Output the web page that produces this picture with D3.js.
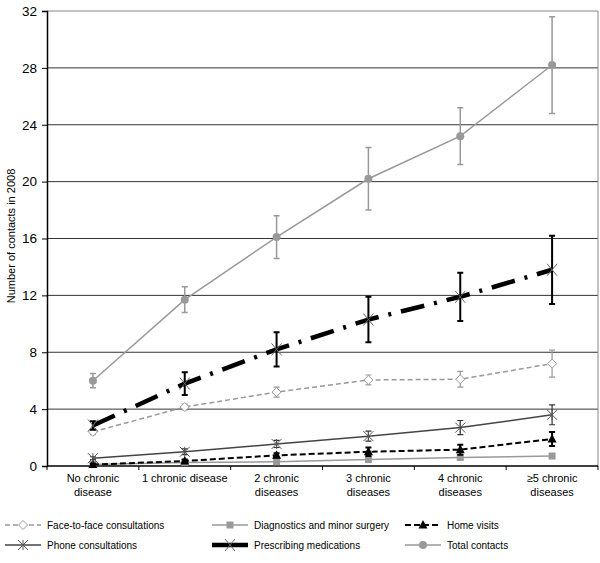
<!DOCTYPE html>
<html>
<head>
<meta charset="utf-8">
<script src="https://cdn.jsdelivr.net/npm/d3@7"></script>
<style>
  body { margin: 0; background: #fff; }
  text { font-family: Arial, "Liberation Sans", sans-serif; }
</style>
</head>
<body>
<div id="chart"></div>
<script>
// Data
const categories = ["No chronic|disease", "1 chronic disease", "2 chronic|diseases",
  "3 chronic|diseases", "4 chronic|diseases", "≥5 chronic|diseases"];
const yTicks = [0, 4, 8, 12, 16, 20, 24, 28, 32];

const faceToFace = [2.4, 4.15, 5.2, 6.05, 6.1, 7.2];
const faceToFaceErr = [0.2, 0.2, 0.35, 0.35, 0.55, 0.95];
const diagnostics = [0.1, 0.25, 0.3, 0.45, 0.6, 0.7];
const diagnosticsErr = [0.03, 0.05, 0.05, 0.05, 0.07, 0.08];
const homeVisits = [0.1, 0.35, 0.75, 1.0, 1.15, 1.9];
const homeVisitsErr = [0.05, 0.1, 0.15, 0.3, 0.35, 0.5];
const phone = [0.55, 1.0, 1.55, 2.1, 2.7, 3.6];
const phoneErr = [0.1, 0.2, 0.25, 0.35, 0.5, 0.7];
const prescribing = [2.85, 5.8, 8.2, 10.3, 11.9, 13.8];
const prescribingErr = [0.3, 0.8, 1.2, 1.6, 1.7, 2.4];
const totalContacts = [6.0, 11.7, 16.1, 20.2, 23.2, 28.2];
const totalErr = [0.5, 0.9, 1.5, 2.2, 2.0, 3.4];

const seriesNames = ["Face-to-face consultations", "Diagnostics and minor surgery", "Home visits",
  "Phone consultations", "Prescribing medications", "Total contacts"];

const series = [
  { name: seriesNames[0], values: faceToFace, err: faceToFaceErr, stroke: "#999", width: 1.5, dash: "5,3", marker: "diamond", mcolor: "#999", ecolor: "#999", ewidth: 1.2 },
  { name: seriesNames[1], values: diagnostics, err: diagnosticsErr, stroke: "#999", width: 1.5, dash: null, marker: "square", mcolor: "#999", ecolor: "#999", ewidth: 1.2 },
  { name: seriesNames[2], values: homeVisits, err: homeVisitsErr, stroke: "#000", width: 2, dash: "6,3", marker: "triangle", mcolor: "#000", ecolor: "#000", ewidth: 2 },
  { name: seriesNames[3], values: phone, err: phoneErr, stroke: "#444", width: 1.5, dash: null, marker: "star", mcolor: "#555", ecolor: "#333", ewidth: 1.2 },
  { name: seriesNames[4], values: prescribing, err: prescribingErr, stroke: "#000", width: 4.5, dash: "24,10,3,10", marker: "cross", mcolor: "#666", ecolor: "#000", ewidth: 2 },
  { name: seriesNames[5], values: totalContacts, err: totalErr, stroke: "#999", width: 1.5, dash: null, marker: "circle", mcolor: "#999", ecolor: "#999", ewidth: 1.5 }
];

// Set up dimensions
const width = 600;
const height = 563;
const margin = { top: 11, right: 2, bottom: 97, left: 47 };
const innerWidth = width - margin.left - margin.right;
const innerHeight = height - margin.top - margin.bottom;

const svg = d3.select("#chart")
  .append("svg")
  .attr("width", width)
  .attr("height", height);

const chart = svg.append("g")
  .attr("transform", `translate(${margin.left}, ${margin.top})`);

// Scales
const xScale = d3.scaleBand()
  .domain(categories)
  .range([0, innerWidth]);

const yScale = d3.scaleLinear()
  .domain([0, 32])
  .range([innerHeight, 0]);

const cx = (i) => xScale(categories[i]) + xScale.bandwidth() / 2;

// Gridlines
chart.append("g")
  .selectAll("line")
  .data(yTicks.filter((d) => d > 0))
  .enter()
  .append("line")
  .attr("x1", 0)
  .attr("x2", innerWidth)
  .attr("y1", (d) => yScale(d))
  .attr("y2", (d) => yScale(d))
  .attr("stroke", (d) => (d === 32 ? "#888" : "#333"))
  .attr("stroke-width", 1);

// Right border
chart.append("line")
  .attr("x1", innerWidth).attr("x2", innerWidth)
  .attr("y1", 0).attr("y2", innerHeight)
  .attr("stroke", "#888");

// Axes
const yAxis = d3.axisLeft(yScale).tickValues(yTicks).tickSize(5).tickPadding(5);
const yAxisGroup = chart.append("g").call(yAxis);
yAxisGroup.select(".domain").attr("stroke", "#000").attr("stroke-width", 1.5);
yAxisGroup.selectAll(".tick text").style("font-size", "13.5px").attr("fill", "#000");

const xAxisGroup = chart.append("g").attr("transform", `translate(0, ${innerHeight})`);
xAxisGroup.append("line")
  .attr("x1", 0).attr("x2", innerWidth)
  .attr("stroke", "#000").attr("stroke-width", 1.5);
xAxisGroup.selectAll(".xtick")
  .data(d3.range(categories.length + 1))
  .enter()
  .append("line")
  .attr("x1", (i) => i * xScale.bandwidth())
  .attr("x2", (i) => i * xScale.bandwidth())
  .attr("y1", 0).attr("y2", 4)
  .attr("stroke", "#000");

const xLabels = xAxisGroup.selectAll(".x-label")
  .data(categories)
  .enter()
  .append("text")
  .attr("class", "x-label")
  .attr("text-anchor", "middle")
  .attr("x", (d) => xScale(d) + xScale.bandwidth() / 2)
  .style("font-size", "11px");
xLabels.selectAll("tspan")
  .data((d) => d.split("|"))
  .enter()
  .append("tspan")
  .attr("x", function () { return d3.select(this.parentNode).attr("x"); })
  .attr("y", (d, i) => 16 + i * 14)
  .text((d) => d);

// Y axis label
chart.append("text")
  .attr("transform", "rotate(-90)")
  .attr("x", -225)
  .attr("y", -32)
  .attr("text-anchor", "middle")
  .style("font-size", "11px")
  .text("Number of contacts in 2008");

// Marker drawing
function drawMarker(g, s, x, y) {
  const c = s.mcolor;
  if (s.marker === "diamond") {
    g.append("path").attr("d", `M${x},${y - 4.5}L${x + 4.5},${y}L${x},${y + 4.5}L${x - 4.5},${y}Z`)
      .attr("fill", "#fff").attr("stroke", c).attr("stroke-width", 1);
  } else if (s.marker === "square") {
    g.append("rect").attr("x", x - 3.5).attr("y", y - 3.5).attr("width", 7).attr("height", 7).attr("fill", c);
  } else if (s.marker === "triangle") {
    g.append("path").attr("d", `M${x},${y - 5}L${x + 4.5},${y + 3.5}L${x - 4.5},${y + 3.5}Z`).attr("fill", c);
  } else if (s.marker === "star") {
    g.append("path").attr("d", `M${x - 5},${y - 5}L${x + 5},${y + 5}M${x - 5},${y + 5}L${x + 5},${y - 5}M${x},${y - 5}L${x},${y + 5}`)
      .attr("stroke", c).attr("stroke-width", 1);
  } else if (s.marker === "cross") {
    g.append("path").attr("d", `M${x - 5},${y - 6}L${x + 5},${y + 6}M${x - 5},${y + 6}L${x + 5},${y - 6}`)
      .attr("stroke", c).attr("stroke-width", 1);
  } else if (s.marker === "circle") {
    g.append("circle").attr("cx", x).attr("cy", y).attr("r", 4).attr("fill", c);
  }
}

const line = d3.line()
  .x((d, i) => cx(i))
  .y((d) => yScale(d));

// Draw series
series.forEach((s) => {
  const g = chart.append("g");

  g.append("path")
    .datum(s.values)
    .attr("d", line)
    .attr("fill", "none")
    .attr("stroke", s.stroke)
    .attr("stroke-width", s.width)
    .attr("stroke-dasharray", s.dash);

  // Error bars
  s.values.forEach((v, i) => {
    const x = cx(i);
    const y1 = yScale(v - s.err[i]);
    const y2 = yScale(v + s.err[i]);
    g.append("path")
      .attr("d", `M${x},${y1}L${x},${y2}M${x - 3},${y1}L${x + 3},${y1}M${x - 3},${y2}L${x + 3},${y2}`)
      .attr("stroke", s.ecolor)
      .attr("stroke-width", s.ewidth)
      .attr("fill", "none");
  });

  s.values.forEach((v, i) => drawMarker(g, s, cx(i), yScale(v)));
});

// Legend
const legendCols = [5, 212, 405];
const legendRows = [525, 545];
series.forEach((s, i) => {
  const lx = legendCols[i % 3];
  const ly = legendRows[Math.floor(i / 3)];
  const g = svg.append("g");
  g.append("line")
    .attr("x1", lx).attr("x2", lx + 36)
    .attr("y1", ly).attr("y2", ly)
    .attr("stroke", s.stroke)
    .attr("stroke-width", s.width)
    .attr("stroke-dasharray", s.marker === "cross" ? null : s.dash);
  drawMarker(g, s, lx + 18, ly);
  g.append("text")
    .attr("x", lx + 42)
    .attr("y", ly)
    .attr("dy", "0.35em")
    .style("font-size", "10px")
    .text(s.name);
});
</script>
</body>
</html>
